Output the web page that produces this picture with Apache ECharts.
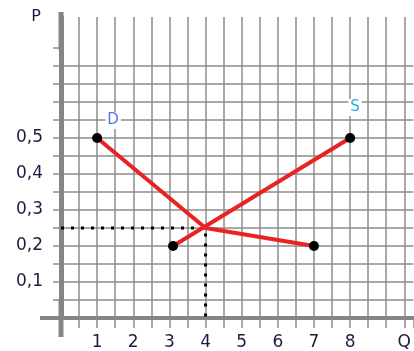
<!DOCTYPE html>
<html>
<head>
<meta charset="utf-8">
<script src="https://cdn.jsdelivr.net/npm/echarts@6/dist/echarts.min.js"></script>
<style>
  html, body { margin: 0; padding: 0; background: #fff; }
  #chart { width: 414px; height: 351px; }
</style>
</head>
<body>
<div id="chart"></div>
<script>
// curve D: quantity / price
var demandQ = [1, 4, 7];
var demandP = [0.5, 0.25, 0.2];
// curve S
var supplyQ = [3.1, 8];
var supplyP = [0.2, 0.5];
// equilibrium
var eqQ = 4;
var eqP = 0.25;
// tick labels
var xLabelVals = [1, 2, 3, 4, 5, 6, 7, 8, 9.5];
var xLabelText = ['1', '2', '3', '4', '5', '6', '7', '8', 'Q'];
var yLabelVals = [0.1, 0.2, 0.3, 0.4, 0.5];
var yLabelText = ['0,1', '0,2', '0,3', '0,4', '0,5'];
var curveNames = ['D', 'S'];

var chart = echarts.init(document.getElementById('chart'));

var gridColor = '#8c8c8c';
var axisColor = '#858585';
var textColor = '#1c1c40';

function pts(xs, ys) {
	var out = [];
	for (var i = 0; i < xs.length; i++) out.push([xs[i], ys[i]]);
	return out;
}

// demand: end points get a dot, the first one carries the "D" tag
var dData = pts(demandQ, demandP).map(function(p, i) {
	var item = {value: p, symbol: (i === 1 ? 'none' : 'circle')};
	if (i === 0) {
		item.label = {show: true, formatter: curveNames[0], color: '#5577ee', offset: [16, 1]};
	}
	return item;
});
var sData = pts(supplyQ, supplyP).map(function(p, i) {
	var item = {value: p, symbol: 'circle'};
	if (i === supplyQ.length - 1) {
		item.label = {show: true, formatter: curveNames[1], color: '#2aa6e6', offset: [5, -12]};
	}
	return item;
});

var curveLabel = {
	show: false,
	fontFamily: 'DejaVu Sans',
	fontSize: 15,
	backgroundColor: '#fff',
	padding: [1, 2]
};

var option = {
	animation: false,
	backgroundColor: '#fff',
	grid: {left: 61, right: 0, top: 17, bottom: 33},
	xAxis: {
		type: 'value',
		min: 0,
		max: 9.75,
		interval: 0.5,
		axisLine: {
			onZero: false,
			lineStyle: {color: axisColor, width: 4},
			symbol: ['rect', 'none'],
			symbolSize: [4, 42]
		},
		axisTick: {show: true, length: 10, lineStyle: {color: gridColor, width: 1.5}},
		axisLabel: {
			customValues: xLabelVals,
			margin: 16,
			color: textColor,
			fontFamily: 'DejaVu Sans',
			fontSize: 17,
			formatter: function(v) {
				var k = xLabelVals.indexOf(v);
				return k < 0 ? '' : xLabelText[k];
			}
		},
		splitLine: {show: true, showMaxLine: false, lineStyle: {color: gridColor, width: 1.5}}
	},
	yAxis: {
		type: 'value',
		min: 0,
		max: 0.836,
		interval: 0.05,
		name: 'P',
		nameLocation: 'end',
		nameGap: 0,
		nameTextStyle: {
			align: 'right',
			verticalAlign: 'middle',
			padding: [0, 20, 0, 0],
			color: textColor,
			fontFamily: 'DejaVu Sans',
			fontSize: 16
		},
		axisLine: {
			show: true,
			onZero: false,
			lineStyle: {color: axisColor, width: 5},
			symbol: ['rect', 'rect'],
			symbolSize: [5, 38],
			symbolOffset: [0, -14]
		},
		axisTick: {
			show: true,
			length: 8,
			customValues: [0.05, 0.1, 0.15, 0.2, 0.25, 0.3, 0.35, 0.4, 0.45, 0.5, 0.55, 0.6, 0.65, 0.7, 0.75],
			lineStyle: {color: gridColor, width: 1.5}
		},
		axisLabel: {
			customValues: yLabelVals,
			margin: 18,
			color: textColor,
			fontFamily: 'DejaVu Sans',
			fontSize: 17,
			formatter: function(v) {
				for (var i = 0; i < yLabelVals.length; i++) {
					if (Math.abs(yLabelVals[i] - v) < 1e-6) return yLabelText[i];
				}
				return '';
			}
		},
		splitLine: {show: true, showMaxLine: false, lineStyle: {color: gridColor, width: 1.5}}
	},
	series: [
		{
			name: 'guide',
			type: 'line',
			data: [[0, eqP], [eqQ, eqP], [eqQ, 0]],
			symbol: 'none',
			lineStyle: {color: '#000', width: 3, type: [3, 7]},
			z: 2
		},
		{
			name: curveNames[0],
			type: 'line',
			data: dData,
			symbolSize: 10,
			itemStyle: {color: '#000'},
			lineStyle: {color: '#e82323', width: 4},
			label: curveLabel,
			z: 3
		},
		{
			name: curveNames[1],
			type: 'line',
			data: sData,
			symbolSize: 10,
			itemStyle: {color: '#000'},
			lineStyle: {color: '#e82323', width: 4},
			label: curveLabel,
			z: 3
		}
	]
};

chart.setOption(option);
</script>
</body>
</html>
